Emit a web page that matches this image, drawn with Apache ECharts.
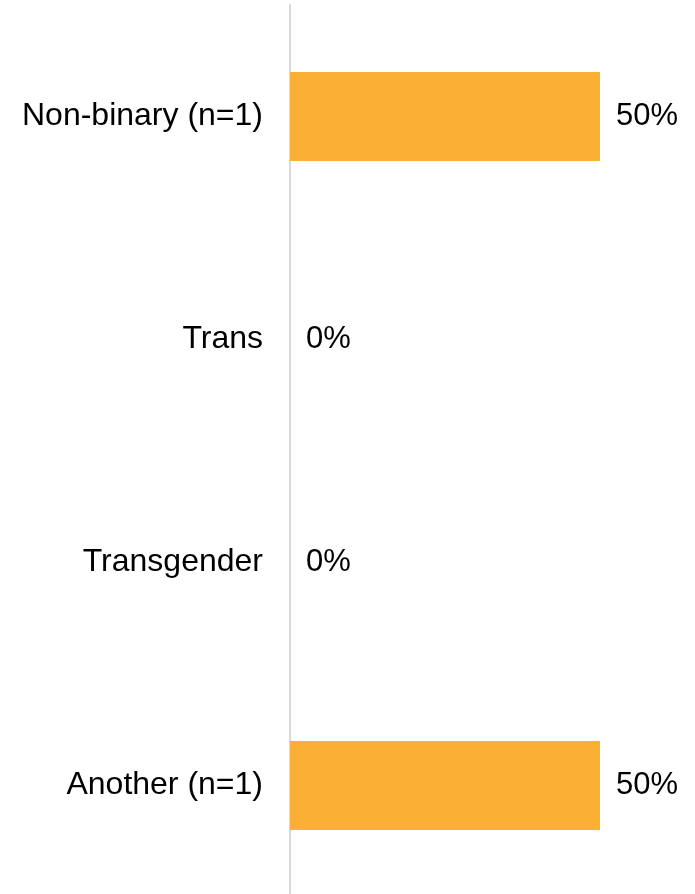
<!DOCTYPE html>
<html>
<head>
<meta charset="utf-8">
<script src="https://cdn.jsdelivr.net/npm/echarts@6/dist/echarts.min.js"></script>
<style>
  html, body { margin: 0; padding: 0; background: #fff; }
  #chart { width: 695px; height: 894px; }
</style>
</head>
<body>
<div id="chart"></div>
<script>
var categories = ['Non-binary (n=1)', 'Trans', 'Transgender', 'Another (n=1)'];
var percents = [50, 0, 0, 50];

var chart = echarts.init(document.getElementById('chart'));

var option = {
  animation: false,
  grid: {
    left: 290,
    top: 5,
    width: 620,
    height: 892,
    outerBoundsMode: 'none'
  },
  xAxis: {
    type: 'value',
    min: 0,
    max: 100,
    show: false
  },
  yAxis: {
    type: 'category',
    data: categories,
    inverse: true,
    axisTick: { show: false },
    axisLine: {
      show: true,
      lineStyle: { color: '#d9d9d9', width: 2 }
    },
    axisLabel: {
      color: '#000',
      fontSize: 32,
      fontFamily: '"Liberation Sans", Arial, sans-serif',
      margin: 27,
      padding: [6, 0, 0, 0]
    }
  },
  series: [
    {
      type: 'bar',
      data: percents,
      barWidth: 89,
      itemStyle: { color: '#fab034' },
      label: {
        show: true,
        position: 'right',
        distance: 16,
        formatter: '{c}%',
        color: '#000',
        fontSize: 31,
        fontFamily: '"Liberation Sans", Arial, sans-serif',
        padding: [6, 0, 0, 0]
      }
    }
  ]
};

chart.setOption(option);
</script>
</body>
</html>
